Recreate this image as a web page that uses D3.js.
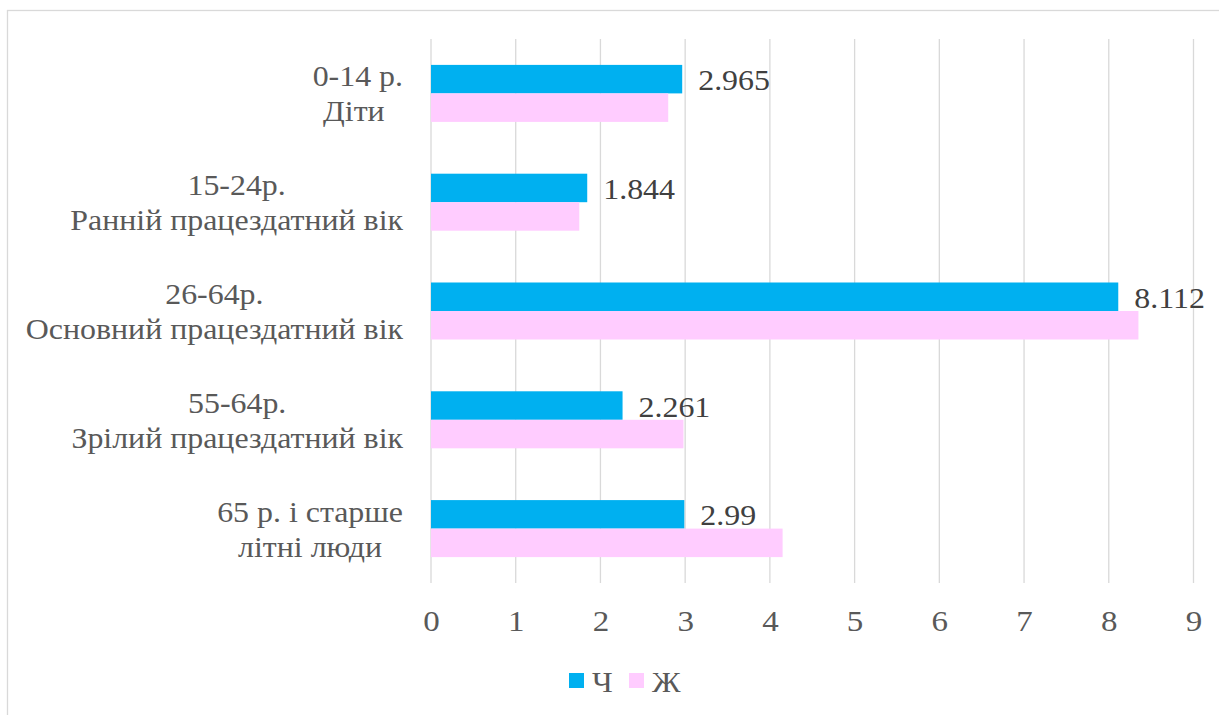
<!DOCTYPE html>
<html>
<head>
<meta charset="utf-8">
<script src="https://cdn.jsdelivr.net/npm/d3@7"></script>
<style>
  html, body { margin: 0; padding: 0; background: #fff; }
  svg { display: block; }
</style>
</head>
<body>
<svg id="chart" width="1219" height="715"></svg>
<script>
// Age groups (two-line labels) and values per sex
const categories = [
  ["0-14 р.", "Діти "],
  ["15-24р.", "Ранній працездатний вік"],
  ["26-64р.", "Основний працездатний вік"],
  ["55-64р.", "Зрілий працездатний вік"],
  ["65 р. і старше", "літні люди"]
];
const seriesNames = ["Ч", "Ж"];
const maleValues = [2.965, 1.844, 8.112, 2.261, 2.99];
const femaleValues = [2.80, 1.75, 8.35, 2.98, 4.15];
const xTicks = [0, 1, 2, 3, 4, 5, 6, 7, 8, 9];
const seriesColors = ["#00B0F0", "#FFCCFF"];

const FONT = "'Liberation Serif'";
const STRETCH = 1.1; // slightly wide lettering

const svg = d3.select("#chart");
const plot = { left: 431, right: 1193.5, top: 39, bottom: 583 };

// place a text with horizontal stretch at (x, y)
function label(parent, x, y, txt, size, color, anchor) {
  return parent.append("text")
    .attr("transform", `translate(${x},${y}) scale(${STRETCH},1)`)
    .attr("text-anchor", anchor || "start")
    .attr("font-family", FONT)
    .attr("font-size", size)
    .attr("xml:space", "preserve")
    .attr("fill", color)
    .text(txt);
}

// chart frame
svg.append("rect")
  .attr("x", 7.5).attr("y", 10.5)
  .attr("width", 1240).attr("height", 740)
  .attr("fill", "none").attr("stroke", "#d9d9d9").attr("stroke-width", 1.3);

const x = d3.scaleLinear().domain([0, 9]).range([plot.left, plot.right]);
const y = d3.scaleBand()
  .domain(d3.range(categories.length))
  .range([plot.top, plot.bottom])
  .paddingInner(0.476).paddingOuter(0.238);
const ySeries = d3.scaleBand().domain([0, 1]).range([0, y.bandwidth()]);

// vertical gridlines
svg.append("g")
  .selectAll("line").data(xTicks).join("line")
  .attr("x1", d => x(d)).attr("x2", d => x(d))
  .attr("y1", plot.top).attr("y2", plot.bottom)
  .attr("stroke", "#d9d9d9").attr("stroke-width", 1.3);

// x axis tick labels
const xAxis = d3.axisBottom(x).tickValues(xTicks).tickSize(0).tickPadding(0).tickFormat(d3.format("d"));
const gx = svg.append("g").attr("transform", `translate(0,${plot.bottom})`).call(xAxis)
  .attr("font-family", FONT).attr("font-size", 30);
gx.select(".domain").remove();
gx.selectAll(".tick text")
  .attr("y", null).attr("dy", null)
  .attr("transform", `translate(0,48) scale(${STRETCH},1)`)
  .attr("fill", "#595959")
  .attr("font-family", FONT)
  .attr("font-size", 30);

// bars
const rows = categories.map((c, i) => ({ i, vals: [maleValues[i], femaleValues[i]] }));
const groups = svg.append("g").selectAll("g").data(rows).join("g")
  .attr("transform", d => `translate(0,${y(d.i)})`);
groups.selectAll("rect").data(d => d.vals.map((v, s) => ({ v, s }))).join("rect")
  .attr("x", x(0))
  .attr("y", d => ySeries(d.s))
  .attr("width", d => x(d.v) - x(0))
  .attr("height", ySeries.bandwidth())
  .attr("fill", d => seriesColors[d.s]);

// value labels on the male series
groups.each(function (d) {
  label(d3.select(this), x(d.vals[0]) + 16, ySeries(0) + ySeries.bandwidth() / 2 + 11,
    String(d.vals[0]), 29, "#404040");
});

// category labels: block right-aligned, lines centered within the block
const catG = svg.append("g");
categories.forEach((lines, i) => {
  const cy = y(i) + y.bandwidth() / 2;
  const ys = [cy - 7, cy + 28];
  const texts = lines.map((t, k) => label(catG, 0, ys[k], t, 29, "#595959", "middle"));
  const w = d3.max(texts, t => t.node().getComputedTextLength()) * STRETCH;
  texts.forEach((t, k) => t.attr("transform",
    `translate(${403 - w / 2},${ys[k]}) scale(${STRETCH},1)`));
});

// legend
const legend = svg.append("g").attr("transform", "translate(569,673)");
const itemX = [0, 60];
seriesNames.forEach((name, s) => {
  const g = legend.append("g").attr("transform", `translate(${itemX[s]},0)`);
  g.append("rect").attr("width", 15).attr("height", 15).attr("fill", seriesColors[s]);
  label(g, 23, 19, name, 29, "#595959");
});
</script>
</body>
</html>
